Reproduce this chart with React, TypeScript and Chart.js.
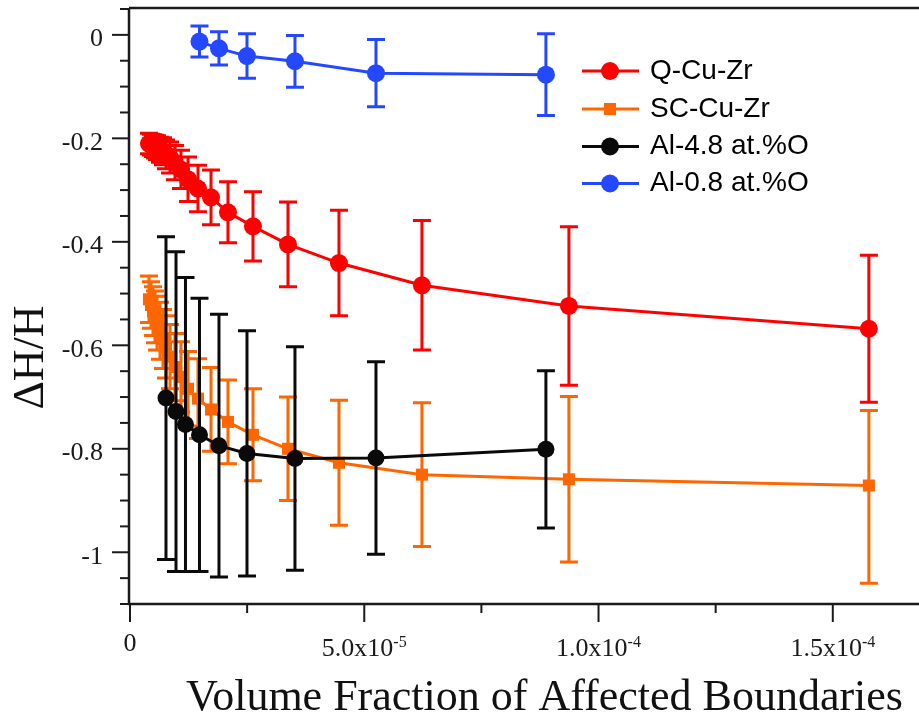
import React, { useEffect, useRef } from "react";
import { Chart, registerables } from "chart.js";
Chart.register(...registerables);

// ---------- data ----------
const cuZrX = [
  4.05e-6, 4.48e-6, 4.91e-6, 5.34e-6, 5.76e-6, 6.4e-6, 7.04e-6, 7.68e-6, 8.54e-6, 9.6e-6,
  1.088e-5, 1.238e-5, 1.451e-5, 1.729e-5, 2.091e-5, 2.625e-5, 3.372e-5, 4.46e-5, 6.231e-5,
  9.368e-5, 1.577e-4,
];
const qCuZrY = [
  -0.21, -0.212, -0.214, -0.216, -0.218, -0.222, -0.225, -0.231, -0.237, -0.247, -0.26, -0.279,
  -0.297, -0.314, -0.343, -0.37, -0.405, -0.441, -0.484, -0.524, -0.568,
];
const qCuZrErr = [
  0.02, 0.02, 0.021, 0.022, 0.023, 0.024, 0.026, 0.028, 0.03, 0.033, 0.037, 0.043, 0.045, 0.053,
  0.059, 0.067, 0.082, 0.102, 0.125, 0.153, 0.142,
];
const scCuZrY = [
  -0.511, -0.522, -0.534, -0.545, -0.557, -0.572, -0.588, -0.603, -0.622, -0.642, -0.661, -0.684,
  -0.703, -0.724, -0.748, -0.773, -0.8, -0.827, -0.85, -0.859, -0.871,
];
const scCuZrErrPlus = [
  0.045, 0.045, 0.047, 0.05, 0.052, 0.055, 0.057, 0.06, 0.062, 0.065, 0.068, 0.072, 0.077, 0.081,
  0.081, 0.089, 0.1, 0.121, 0.139, 0.16, 0.145,
];
const scCuZrErrMinus = [
  0.045, 0.045, 0.047, 0.05, 0.052, 0.055, 0.057, 0.06, 0.062, 0.065, 0.068, 0.072, 0.077, 0.081,
  0.081, 0.089, 0.1, 0.121, 0.139, 0.16, 0.189,
];
const al48X = [7.68e-6, 9.82e-6, 1.184e-5, 1.483e-5, 1.899e-5, 2.497e-5, 3.521e-5, 5.25e-5, 8.877e-5];
const al48Y = [-0.702, -0.728, -0.753, -0.773, -0.794, -0.809, -0.819, -0.818, -0.801];
const al48Err = [0.312, 0.309, 0.284, 0.264, 0.254, 0.237, 0.216, 0.186, 0.152];
const al08X = [1.483e-5, 1.899e-5, 2.497e-5, 3.521e-5, 5.25e-5, 8.877e-5];
const al08Y = [-0.013, -0.026, -0.041, -0.051, -0.074, -0.077];
const al08Err = [0.03, 0.032, 0.043, 0.05, 0.065, 0.079];

const seriesNames = ["Q-Cu-Zr", "SC-Cu-Zr", "Al-4.8 at.%O", "Al-0.8 at.%O"];
const seriesColors = ["#ff0000", "#ff6600", "#0a0a0a", "#2448ff"];

const xTickValues = [0, 5e-5, 1e-4, 1.5e-4];
const xTickMain = ["0", "5.0x10", "1.0x10", "1.5x10"];
const xTickExp = ["", "-5", "-4", "-4"];
const yTickValues = [0, -0.2, -0.4, -0.6, -0.8, -1];
const yTickLabels = ["0", "-0.2", "-0.4", "-0.6", "-0.8", "-1"];
const xAxisTitle = "Volume Fraction of Affected Boundaries";
const yAxisTitle = "ΔH/H";

const X_MIN = 0;
const X_MAX = 1.684e-4;
const Y_MIN = -1.1;
const Y_MAX = 0.05;

const SERIF = '"Liberation Serif", "Times New Roman", serif';
const SANS = '"Liberation Sans", Arial, sans-serif';

function pts(xs: number[], ys: number[]) {
  return xs.map((x, i) => ({ x, y: ys[i] }));
}

const errorBarPlugin = {
  id: "errorBars",
  beforeDatasetDraw(chart: any, args: any) {
    const ds: any = chart.data.datasets[args.index];
    if (!ds.errLow) return;
    const xs = chart.scales.x;
    const ys = chart.scales.y;
    const ctx = chart.ctx;
    ctx.save();
    ctx.strokeStyle = ds.borderColor;
    ctx.lineWidth = 3;
    ds.data.forEach((p: any, i: number) => {
      const px = xs.getPixelForValue(p.x);
      const top = ys.getPixelForValue(ds.errHigh[i]);
      const bot = ys.getPixelForValue(ds.errLow[i]);
      ctx.beginPath();
      ctx.moveTo(px, top);
      ctx.lineTo(px, bot);
      ctx.moveTo(px - 9, top);
      ctx.lineTo(px + 9, top);
      ctx.moveTo(px - 9, bot);
      ctx.lineTo(px + 9, bot);
      ctx.stroke();
    });
    ctx.restore();
  },
};

const axesPlugin = {
  id: "axesDecor",
  afterDraw(chart: any) {
    const ctx = chart.ctx;
    const xs = chart.scales.x;
    const ys = chart.scales.y;
    const { left, right, top, bottom } = chart.chartArea;
    ctx.save();
    ctx.strokeStyle = "#1a1a1a";
    ctx.fillStyle = "#1a1a1a";
    ctx.lineWidth = 2.5;
    // frame lines
    ctx.beginPath();
    ctx.moveTo(left - 1, top - 1);
    ctx.lineTo(right + 2, top - 1);
    ctx.moveTo(left - 1, top - 1);
    ctx.lineTo(left - 1, bottom);
    ctx.lineTo(right + 2, bottom);
    ctx.stroke();
    // y ticks every 0.05
    ctx.lineWidth = 2;
    for (let k = 0; k <= 23; k++) {
      const v = Y_MIN + k * 0.05;
      const py = ys.getPixelForValue(v);
      const major = yTickValues.some((t) => Math.abs(t - v) < 1e-6);
      ctx.beginPath();
      ctx.moveTo(left - 1, py);
      ctx.lineTo(left - 1 - (major ? 17 : 9), py);
      ctx.stroke();
    }
    // x ticks every 2.5e-5
    for (let k = 0; k <= 6; k++) {
      const v = k * 2.5e-5;
      const px = xs.getPixelForValue(v);
      const major = k % 2 === 0;
      ctx.beginPath();
      ctx.moveTo(px, bottom);
      ctx.lineTo(px, bottom + (major ? 18 : 9));
      ctx.stroke();
    }
    // y labels
    ctx.font = `26px ${SERIF}`;
    ctx.textAlign = "right";
    ctx.textBaseline = "alphabetic";
    yTickValues.forEach((v, i) => {
      const py = ys.getPixelForValue(v);
      ctx.fillText(yTickLabels[i], 103, py + 11.5);
    });
    // x labels
    xTickValues.forEach((v, i) => {
      const px = xs.getPixelForValue(v);
      ctx.font = `26px ${SERIF}`;
      const wMain = ctx.measureText(xTickMain[i]).width;
      ctx.font = `16px ${SERIF}`;
      const wExp = xTickExp[i] ? ctx.measureText(xTickExp[i]).width : 0;
      const total = wMain + wExp;
      const x0 = px - total / 2;
      const base = xTickExp[i] ? 656 : 650.5;
      ctx.textAlign = "left";
      ctx.font = `26px ${SERIF}`;
      ctx.fillText(xTickMain[i], x0, base);
      if (xTickExp[i]) {
        ctx.font = `16px ${SERIF}`;
        ctx.fillText(xTickExp[i], x0 + wMain, base - 9);
      }
    });
    // titles
    ctx.fillStyle = "#111";
    ctx.font = `44px ${SERIF}`;
    ctx.textAlign = "center";
    ctx.fillText(xAxisTitle, 544.5, 710);
    ctx.save();
    ctx.translate(43, 357.5);
    ctx.rotate(-Math.PI / 2);
    ctx.fillText(yAxisTitle, 0, 0);
    ctx.restore();

    // legend
    const rows = [71, 109, 146.5, 183.5];
    ctx.font = `28px ${SANS}`;
    ctx.textAlign = "left";
    seriesNames.forEach((name, i) => {
      const y = rows[i];
      const c = seriesColors[i];
      ctx.strokeStyle = c;
      ctx.fillStyle = c;
      ctx.lineWidth = 3;
      ctx.beginPath();
      ctx.moveTo(582, y);
      ctx.lineTo(639, y);
      ctx.stroke();
      if (i === 1) {
        ctx.fillRect(610 - 6, y - 6, 12, 12);
      } else {
        ctx.beginPath();
        ctx.arc(610, y, 9, 0, Math.PI * 2);
        ctx.fill();
      }
      ctx.fillStyle = "#000";
      ctx.fillText(name, 650, y + 7.5);
    });
    ctx.restore();
  },
};

export default function App() {
  const ref = useRef<HTMLCanvasElement | null>(null);
  useEffect(() => {
    if (!ref.current) return;
    const mk = (
      i: number,
      xs: number[],
      ys: number[],
      lo: number[],
      hi: number[],
      style: string,
      radius: number,
      order: number
    ) => ({
      label: seriesNames[i],
      data: pts(xs, ys),
      borderColor: seriesColors[i],
      backgroundColor: seriesColors[i],
      pointBackgroundColor: seriesColors[i],
      pointBorderColor: seriesColors[i],
      borderWidth: 3,
      pointBorderWidth: 0,
      pointRadius: radius,
      pointStyle: style,
      tension: 0,
      showLine: true,
      fill: false,
      clip: false,
      order,
      errLow: lo,
      errHigh: hi,
    });
    const chart = new Chart(ref.current, {
      type: "scatter",
      data: {
        datasets: [
          mk(
            0,
            cuZrX,
            qCuZrY,
            qCuZrY.map((v, i) => v - qCuZrErr[i]),
            qCuZrY.map((v, i) => v + qCuZrErr[i]),
            "circle",
            9,
            4
          ),
          mk(
            1,
            cuZrX,
            scCuZrY,
            scCuZrY.map((v, i) => v - scCuZrErrMinus[i]),
            scCuZrY.map((v, i) => v + scCuZrErrPlus[i]),
            "rect",
            8.5,
            3
          ),
          mk(
            2,
            al48X,
            al48Y,
            al48Y.map((v, i) => v - al48Err[i]),
            al48Y.map((v, i) => v + al48Err[i]),
            "circle",
            8.5,
            2
          ),
          mk(
            3,
            al08X,
            al08Y,
            al08Y.map((v, i) => v - al08Err[i]),
            al08Y.map((v, i) => v + al08Err[i]),
            "circle",
            9,
            1
          ),
        ] as any,
      },
      options: {
        responsive: false,
        maintainAspectRatio: false,
        devicePixelRatio: 1,
        animation: false,
        events: [],
        layout: { autoPadding: false, padding: { left: 130, top: 9, right: 0, bottom: 117 } },
        scales: {
          x: { type: "linear", min: X_MIN, max: X_MAX, display: false },
          y: { type: "linear", min: Y_MIN, max: Y_MAX, display: false },
        },
        plugins: {
          legend: { display: false },
          tooltip: { enabled: false },
          title: { display: false },
        },
      },
      plugins: [errorBarPlugin, axesPlugin],
    } as any);
    return () => chart.destroy();
  }, []);
  return (
    <div style={{ position: "absolute", left: 0, top: 0, width: 919, height: 721, background: "#fff" }}>
      <canvas ref={ref} width={919} height={721} style={{ width: 919, height: 721, display: "block" }} />
    </div>
  );
}
